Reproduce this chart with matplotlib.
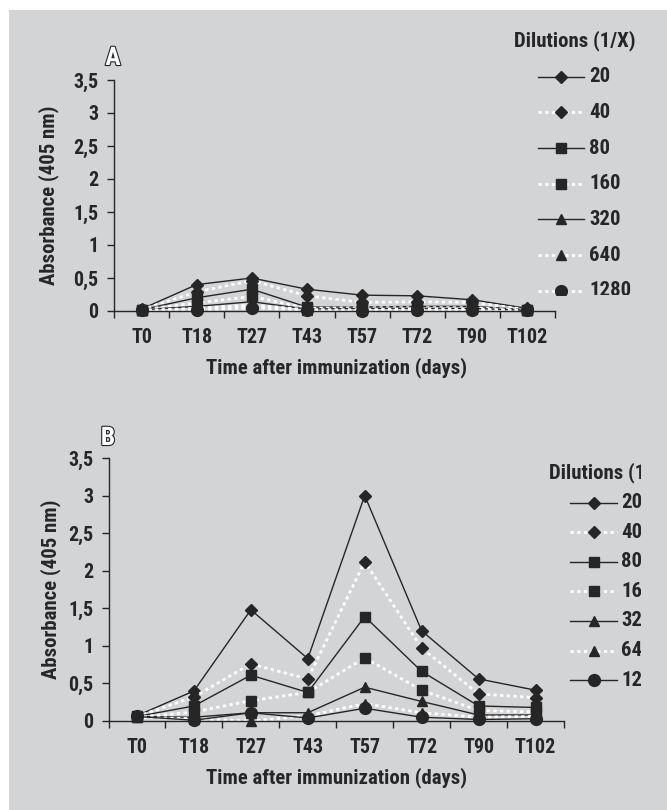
import matplotlib
matplotlib.use('Agg')
import matplotlib.pyplot as plt
import matplotlib.patheffects as pe
from matplotlib import font_manager
from matplotlib.patches import Rectangle

# the original uses a narrow bold face; take a condensed one if there is one
installed = {f.name for f in font_manager.fontManager.ttflist}
if 'Roboto Condensed' in installed:
    fam, k = 'Roboto Condensed', 1.15
else:
    fam, k = 'Liberation Sans', 1.0
plt.rcParams['font.family'] = [fam, 'DejaVu Sans']
plt.rcParams['font.weight'] = 'bold'

times = ['T0', 'T18', 'T27', 'T43', 'T57', 'T72', 'T90', 'T102']
dilutions = ['20', '40', '80', '160', '320', '640', '1280']

# panel A
a_20 = [0.03, 0.40, 0.50, 0.33, 0.24, 0.23, 0.17, 0.04]
a_40 = [0.02, 0.29, 0.46, 0.23, 0.13, 0.14, 0.13, 0.02]
a_80 = [0.02, 0.20, 0.33, 0.06, 0.06, 0.07, 0.07, 0.02]
a_160 = [0.02, 0.12, 0.22, 0.04, 0.05, 0.05, 0.05, 0.01]
a_320 = [0.02, 0.07, 0.14, 0.03, 0.04, 0.04, 0.04, 0.01]
a_640 = [0.01, 0.04, 0.09, 0.02, 0.02, 0.03, 0.03, 0.01]
a_1280 = [0.01, 0.01, 0.05, 0.01, 0.00, 0.01, 0.01, 0.01]

# panel B
b_20 = [0.07, 0.40, 1.48, 0.83, 3.00, 1.20, 0.56, 0.41]
b_40 = [0.06, 0.32, 0.76, 0.56, 2.12, 0.97, 0.36, 0.31]
b_80 = [0.06, 0.20, 0.61, 0.38, 1.39, 0.66, 0.20, 0.18]
b_160 = [0.05, 0.12, 0.27, 0.38, 0.84, 0.41, 0.14, 0.12]
b_320 = [0.06, 0.05, 0.11, 0.11, 0.45, 0.26, 0.08, 0.08]
b_640 = [0.05, 0.03, 0.00, 0.07, 0.23, 0.11, 0.05, 0.06]
b_1280 = [0.06, 0.01, 0.11, 0.04, 0.17, 0.05, 0.02, 0.03]

markers = ['D', 'D', 's', 's', '^', '^', 'o']
msizes = [6, 6, 7, 7, 7, 7, 8.5]
styles_a = ['solid', 'dot', 'solid', 'dot', 'solid', 'dot', 'dot']
styles_b = ['solid', 'dot', 'solid', 'dot', 'solid', 'dot', 'solid']

ink = '#262626'
bg = '#d3d4d6'

W, H = 667, 810
fig = plt.figure(figsize=(W / 100, H / 100), dpi=100)
fig.patch.set_facecolor('white')
fig.add_artist(Rectangle((9 / W, 0), 1, (H - 10) / H, transform=fig.transFigure,
                         facecolor=bg, edgecolor='none', zorder=-10))


def px(x0, y0, x1, y1):
    # pixel box (top-down) -> figure fraction rect
    return [x0 / W, (H - y1) / H, (x1 - x0) / W, (y1 - y0) / H]


def line_kw(style):
    if style == 'solid':
        return dict(color=ink, lw=1.0, ls='-')
    return dict(color='white', lw=2.0, ls=(0, (1.2, 1.2)))


def panel(box, series, styles, letter, letter_xy, label_x, label_y):
    ax = fig.add_axes(px(*box))
    ax.set_facecolor('none')
    x = list(range(len(times)))
    for vals, st, m, ms in zip(series, styles, markers, msizes):
        ax.plot(x, vals, marker=m, ms=ms, mfc=ink, mec=ink, clip_on=False, **line_kw(st))
    ax.set_xlim(-0.5, len(times) - 0.5)
    ax.set_ylim(0, 3.5)
    ax.set_yticks([0, 0.5, 1, 1.5, 2, 2.5, 3, 3.5])
    ax.set_yticklabels(['0', '0,5', '1', '1,5', '2', '2,5', '3', '3,5'])
    ax.set_xticks(x)
    ax.set_xticklabels(times)
    ax.set_xticks([i - 0.5 for i in range(len(times) + 1)], minor=True)
    ax.tick_params(axis='x', which='major', length=0, pad=12)
    ax.tick_params(axis='x', which='minor', length=5, width=1, color=ink, direction='out')
    ax.tick_params(axis='y', length=5, width=1, color=ink, direction='out', pad=6)
    for lab in ax.get_xticklabels() + ax.get_yticklabels():
        lab.set_fontsize(12.5 * k)
        lab.set_fontweight('bold')
        lab.set_color(ink)
    for s in ['top', 'right']:
        ax.spines[s].set_visible(False)
    for s in ['left', 'bottom']:
        ax.spines[s].set_color(ink)
        ax.spines[s].set_linewidth(1)
    w, h = box[2] - box[0], box[3] - box[1]
    ax.set_xlabel('Time after immunization (days)', fontsize=13 * k, fontweight='bold',
                  color=ink, va='center')
    ax.xaxis.set_label_coords((337 - box[0]) / w, (box[3] - label_y) / h)
    ax.set_ylabel('Absorbance (405 nm)', fontsize=13 * k, fontweight='bold', color=ink,
                  va='center')
    ax.yaxis.set_label_coords((label_x - box[0]) / w, 0.5)
    t = fig.text(letter_xy[0] / W, 1 - letter_xy[1] / H, letter, fontsize=16 * k,
                 fontweight='bold', color='white', ha='center', va='center')
    t.set_path_effects([pe.Stroke(linewidth=1.6, foreground=ink), pe.Normal()])
    return ax


def legend(box, title, labels, styles, y0, dy, line_x, lab_x, title_x, title_ha):
    # hand-drawn legend inside an invisible axes, so it can be cut off like in the original
    lg = fig.add_axes(px(*box))
    lg.set_xlim(box[0], box[2])
    lg.set_ylim(box[3], box[1])
    lg.axis('off')
    lg.text(title_x, y0, title, fontsize=13 * k, fontweight='bold', color=ink,
            ha=title_ha, va='center', clip_on=True)
    for i, (lab, st, m, ms) in enumerate(zip(labels, styles, markers, msizes)):
        y = y0 + dy * (i + 1)
        lg.plot(line_x, [y, y], **line_kw(st))
        lg.plot([(line_x[0] + line_x[1]) / 2], [y], marker=m, ms=ms, mfc=ink, mec=ink, ls='none')
        lg.text(lab_x, y, lab, fontsize=13 * k, fontweight='bold', color=ink, ha='left',
                va='center', clip_on=True)


panel((114, 80, 555, 311), [a_20, a_40, a_80, a_160, a_320, a_640, a_1280],
      styles_a, 'A', (113, 58), 49, 368)
panel((108.5, 458, 564, 721), [b_20, b_40, b_80, b_160, b_320, b_640, b_1280],
      styles_b, 'B', (108, 438), 51, 778)

legend((490, 25, 667, 295), 'Dilutions (1/X)', dilutions, styles_a,
       41, 35.7, [538, 584], 589, 575, 'center')
legend((540, 455, 641, 690), 'Dilutions (1/X)', dilutions, styles_b,
       473, 29.6, [570, 617], 621, 549, 'left')

fig.savefig('out.png', dpi=100, facecolor=fig.get_facecolor())
